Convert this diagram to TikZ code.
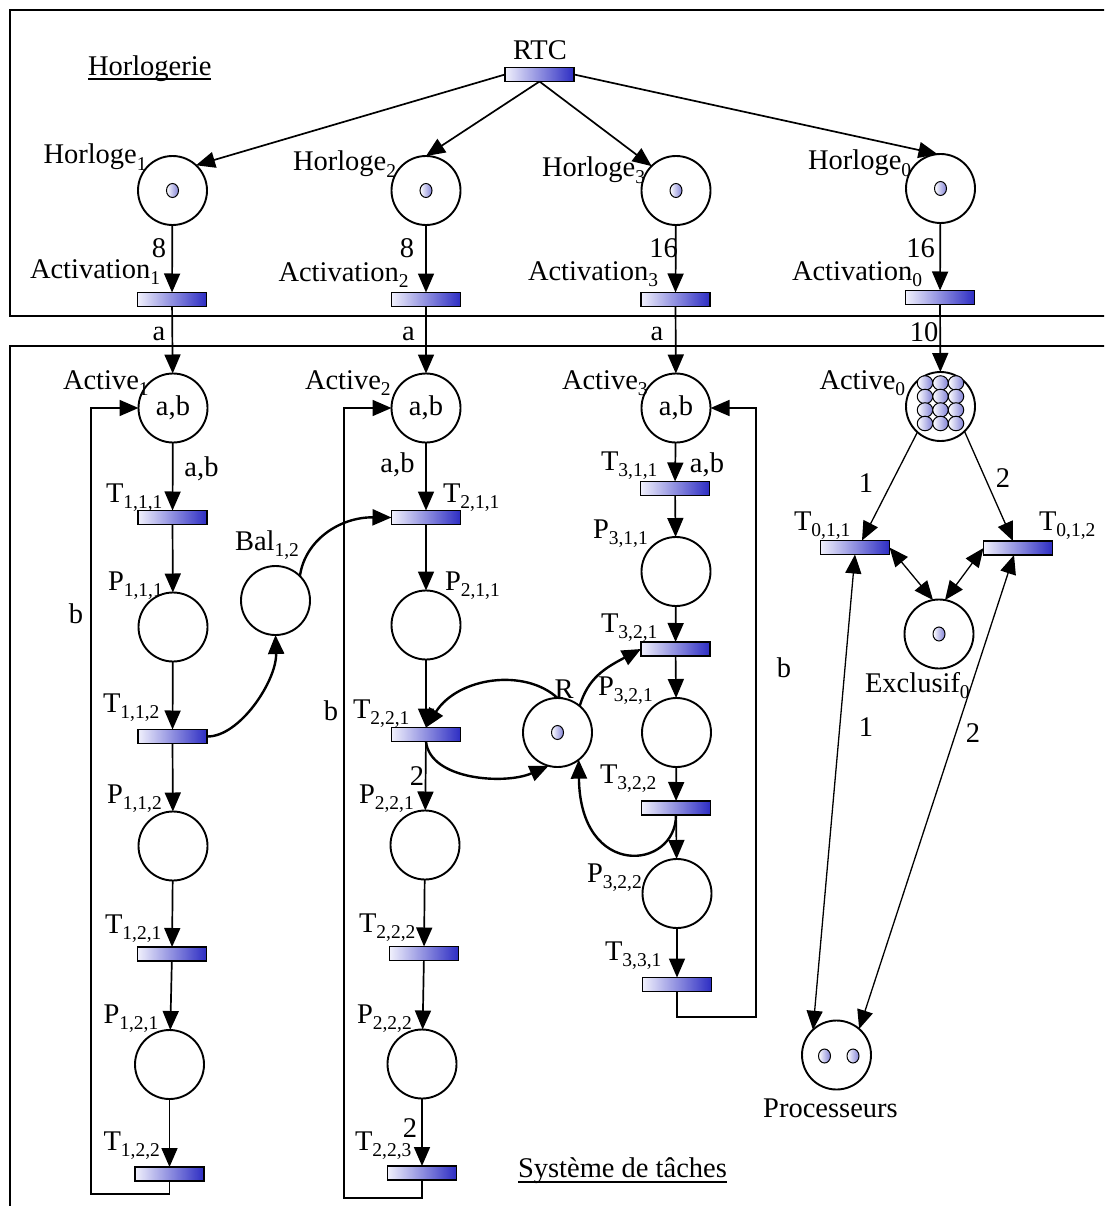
\documentclass[tikz,border=0pt]{standalone}
\usepackage{fontspec}
\setmainfont{Liberation Serif}
\usetikzlibrary{arrows.meta,shapes.geometric,calc}
\definecolor{tblue}{RGB}{45,45,195}
\definecolor{tlight}{RGB}{240,240,252}
\definecolor{tokb}{RGB}{130,130,215}
\newcommand\sbs[1]{\raisebox{-6.5pt}{\fontsize{19.5}{20}\selectfont #1}}
\begin{document}
\begin{tikzpicture}[x=1pt,y=-1pt,
  every node/.style={font=\fontsize{28.5}{30}\selectfont, inner sep=0pt, outer sep=0pt},
  place/.style={circle, draw, line width=1.9pt, minimum size=69pt},
  trans/.style={rectangle, draw, line width=1.5pt, minimum width=69pt, minimum height=14pt, left color=tlight, right color=tblue},
  token/.style={ellipse, draw, line width=1pt, minimum width=12pt, minimum height=14pt, left color=white, right color=tokb},
  btoken/.style={token, minimum width=15.5pt, minimum height=14.5pt},
  lbl/.style={anchor=base west},
  wlbl/.style={anchor=base},
  arc/.style={line width=1.7pt, -{Triangle[length=19pt,width=16pt]}},
  carc/.style={line width=2.4pt, -{Triangle[length=19pt,width=16pt]}},
  tarc/.style={line width=1.3pt, -{Triangle[length=19pt,width=16pt]}},
  tbarc/.style={line width=1.3pt, {Triangle[length=19pt,width=16pt]}-{Triangle[length=19pt,width=16pt]}},
]
\useasboundingbox (0,0) rectangle (1104,1206);
\clip (0,0) rectangle (1104,1206);
% frames
\draw[line width=2pt] (10,10) rectangle (1120,316);
\draw[line width=1.1pt] (10,1220) -- (10,346) -- (1120,346);

% ---------- Horlogerie ----------
\node[lbl] (hl) at (88,76) {Horlogerie};
\draw[line width=1.2pt] ([yshift=-3pt]hl.base west) -- ([yshift=-3pt]hl.base east);
\node[trans] (RTC) at (539.5,74.5) {};
\node[wlbl] (RTCl) at (540,60) {RTC};

\node[place] (H1) at (172.5,190.5) {};
\node[place] (H2) at (426,190.5) {};
\node[place] (H3) at (676,190.5) {};
\node[place] (H0) at (940.5,188.5) {};
\foreach \h in {H1,H2,H3,H0} \node[token] at (\h) {};
\node[lbl] (H1l) at (43.5,164) {Horloge\sbs{1}};
\node[lbl] (H2l) at (293,171) {Horloge\sbs{2}};
\node[lbl] (H3l) at (542,177) {Horloge\sbs{3}};
\node[lbl] (H0l) at (808,170) {Horloge\sbs{0}};

\node[trans] (A1) at (172,299.5) {};
\node[trans] (A2) at (426,299.5) {};
\node[trans] (A3) at (675.5,299.5) {};
\node[trans] (A0) at (940,297.5) {};
\node[lbl] (A1l) at (30,278) {Activation\sbs{1}};
\node[lbl] (A2l) at (278.5,281) {Activation\sbs{2}};
\node[lbl] (A3l) at (528,280) {Activation\sbs{3}};
\node[lbl] (A0l) at (792,280) {Activation\sbs{0}};

\draw[arc] (RTC.west) -- (H1.47);
\draw[arc] (RTC.south) -- (H2.north);
\draw[arc] (RTC.south) -- (H3.135);
\draw[arc] (RTC.east) -- (H0.95);

\draw[arc] (H1) -- (A1);
\draw[arc] (H2) -- (A2);
\draw[arc] (H3) -- (A3);
\draw[arc] (H0) -- (A0);
\node[wlbl] (w1) at (159,257) {8};
\node[wlbl] (w2) at (407,257) {8};
\node[wlbl] (w3) at (663.5,257) {16};
\node[wlbl] (w0) at (920.5,257) {16};

% ---------- Systeme de taches ----------
\node[place] (Ac1) at (173,408) {a,b};
\node[place] (Ac2) at (426,408) {a,b};
\node[place] (Ac3) at (676,408) {a,b};
\node[place] (Ac0) at (940.5,406.5) {};
\foreach \yy in {383,396.5,410,423.5}
  \foreach \xx in {925,940.5,956}
    \node[btoken] at (\xx,\yy) {};
\node[lbl] (Ac1l) at (63,389) {Active\sbs{1}};
\node[lbl] (Ac2l) at (305,389) {Active\sbs{2}};
\node[lbl] (Ac3l) at (562,389) {Active\sbs{3}};
\node[lbl] (Ac0l) at (819.5,389) {Active\sbs{0}};

\draw[arc] (A1) -- (Ac1);
\draw[arc] (A2) -- (Ac2);
\draw[arc] (A3) -- (Ac3);
\draw[arc] (A0) -- (Ac0);
\node[wlbl] (wa1) at (159,340) {a};
\node[wlbl] (wa2) at (408.5,340) {a};
\node[wlbl] (wa3) at (657,340) {a};
\node[wlbl] (wa0) at (924,341) {10};

% column 1
\node[trans] (T111) at (172.5,517.5) {};
\node[place] (P111) at (173,627) {};
\node[trans] (T112) at (172.5,736.5) {};
\node[place] (P112) at (173,846) {};
\node[trans] (T121) at (172,954) {};
\node[place] (P121) at (169.5,1064.5) {};
\node[trans] (T122) at (169.5,1174) {};
\node[lbl] at (106,502) {T\sbs{1,1,1}};
\node[lbl] at (108,590) {P\sbs{1,1,1}};
\node[lbl] at (103,712) {T\sbs{1,1,2}};
\node[lbl] at (107,803) {P\sbs{1,1,2}};
\node[lbl] at (105,933) {T\sbs{1,2,1}};
\node[lbl] at (103.5,1023) {P\sbs{1,2,1}};
\node[lbl] at (103.5,1150) {T\sbs{1,2,2}};
\draw[arc] (Ac1) -- (T111);
\draw[arc] (T111) -- (P111);
\draw[arc] (P111) -- (T112);
\draw[arc] (T112) -- (P112);
\draw[arc] (P112) -- (T121);
\draw[arc] (T121) -- (P121);
\draw[arc] (P121) -- (T122);
\node[wlbl] at (201.5,476) {a,b};
\coordinate (L1a) at (91,1194);
\coordinate (L1b) at (91,408);
\draw[arc] (T122.south) -- (T122.south |- L1a) -- (L1a) -- (L1b) -- (Ac1.west);
\node[wlbl] at (76,623) {b};

% Bal
\node[place] (Bal) at (275.5,600.5) {};
\node[lbl] at (235,550) {Bal\sbs{1,2}};

% column 2
\node[trans] (T211) at (426,517.5) {};
\node[place] (P211) at (426,625) {};
\node[trans] (T221) at (426,734.5) {};
\node[place] (P221) at (425,845) {};
\node[trans] (T222) at (424,953.5) {};
\node[place] (P222) at (422,1064) {};
\node[trans] (T223) at (422,1173) {};
\node[lbl] at (443,502) {T\sbs{2,1,1}};
\node[lbl] at (445,590) {P\sbs{2,1,1}};
\node[lbl] at (353,718) {T\sbs{2,2,1}};
\node[lbl] at (359,803) {P\sbs{2,2,1}};
\node[lbl] at (359,932) {T\sbs{2,2,2}};
\node[lbl] at (357,1023) {P\sbs{2,2,2}};
\node[lbl] at (355,1150) {T\sbs{2,2,3}};
\draw[arc] (Ac2) -- (T211);
\draw[arc] (T211) -- (P211);
\draw[arc] (P211) -- (T221);
\draw[arc] (T221) -- (P221);
\draw[arc] (P221) -- (T222);
\draw[arc] (T222) -- (P222);
\draw[arc] (P222) -- (T223);
\node[wlbl] at (397.5,472) {a,b};
\node[wlbl] at (417,785) {2};
\node[wlbl] at (410,1137) {2};
\coordinate (L2a) at (344,1198);
\coordinate (L2b) at (344,408);
\draw[arc] (T223.south) -- (T223.south |- L2a) -- (L2a) -- (L2b) -- (Ac2.west);
\node[wlbl] at (331,720) {b};

% R
\node[place] (R) at (557.5,732.5) {};
\node[token] at (R) {};
\node[wlbl] at (564,698) {R};

% column 3
\node[trans] (T311) at (675,488.5) {};
\node[place] (P311) at (676,571.5) {};
\node[trans] (T321) at (675.5,649) {};
\node[place] (P321) at (676.5,732.5) {};
\node[trans] (T322) at (676,808) {};
\node[place] (P322) at (677,893.5) {};
\node[trans] (T331) at (677,984.5) {};
\node[lbl] at (601,470) {T\sbs{3,1,1}};
\node[lbl] at (593,538) {P\sbs{3,1,1}};
\node[lbl] at (601,632) {T\sbs{3,2,1}};
\node[lbl] at (598,695) {P\sbs{3,2,1}};
\node[lbl] at (600,783) {T\sbs{3,2,2}};
\node[lbl] at (587,882) {P\sbs{3,2,2}};
\node[lbl] at (605,960) {T\sbs{3,3,1}};
\draw[arc] (Ac3) -- (T311);
\draw[arc] (T311) -- (P311);
\draw[arc] (P311) -- (T321);
\draw[arc] (T321) -- (P321);
\draw[arc] (P321) -- (T322);
\draw[arc] (T322) -- (P322);
\draw[arc] (P322) -- (T331);
\node[wlbl] at (707,472) {a,b};
\coordinate (L3a) at (756,1017);
\coordinate (L3b) at (756,408);
\draw[arc] (T331.south) -- (T331.south |- L3a) -- (L3a) -- (L3b) -- (Ac3.east);
\node[wlbl] at (784,677) {b};

% curved arcs
\draw[carc] (T112.east) .. controls (240,737) and (277,680) .. (Bal.south);
\draw[carc] (Bal.45) .. controls (305,540) and (340,517) .. (T211.west);
\draw[carc] (R.north) .. controls (525,668) and (458,677) .. (T221.north);
\draw[carc] (T221.south) .. controls (430,780) and (505,785) .. (R.255);
\draw[carc] (R.50) .. controls (588,678) and (605,668) .. (T321.west);
\draw[carc] (T322.south) .. controls (676,870) and (580,880) .. (R.308);

% column 0
\node[trans] (T011) at (855,547.5) {};
\node[trans] (T012) at (1018,548) {};
\node[place] (Ex) at (939,634) {};
\node[token] at (Ex) {};
\node[place] (Proc) at (836.5,1055) {};
\node[token] at (824.5,1056) {};
\node[token] at (853,1056) {};
\node[lbl] at (794,530) {T\sbs{0,1,1}};
\node[lbl] at (1039,530) {T\sbs{0,1,2}};
\node[lbl] at (865,692) {Exclusif\sbs{0}};
\node[wlbl] at (830.5,1117) {Processeurs};
\draw[tarc] (Ac0.228) -- ([xshift=7pt]T011.north);
\draw[tarc] (Ac0.314) -- ([xshift=-5pt]T012.north);
\draw[tbarc] (T011.east) -- (Ex.100);
\draw[tbarc] (T012.west) -- (Ex.80);
\draw[tbarc] (Proc.133) -- (T011.south);
\draw[tbarc] (Proc.49) -- ([xshift=-4pt]T012.south);
\node[wlbl] at (866,492) {1};
\node[wlbl] at (1003,487) {2};
\node[wlbl] at (866,736) {1};
\node[wlbl] at (973,742) {2};

\node[lbl] (sys) at (518,1177) {Système de tâches};
\draw[line width=1.2pt] ([yshift=-5pt]sys.base west) -- ([yshift=-5pt]sys.base east);
\end{tikzpicture}
\end{document}
